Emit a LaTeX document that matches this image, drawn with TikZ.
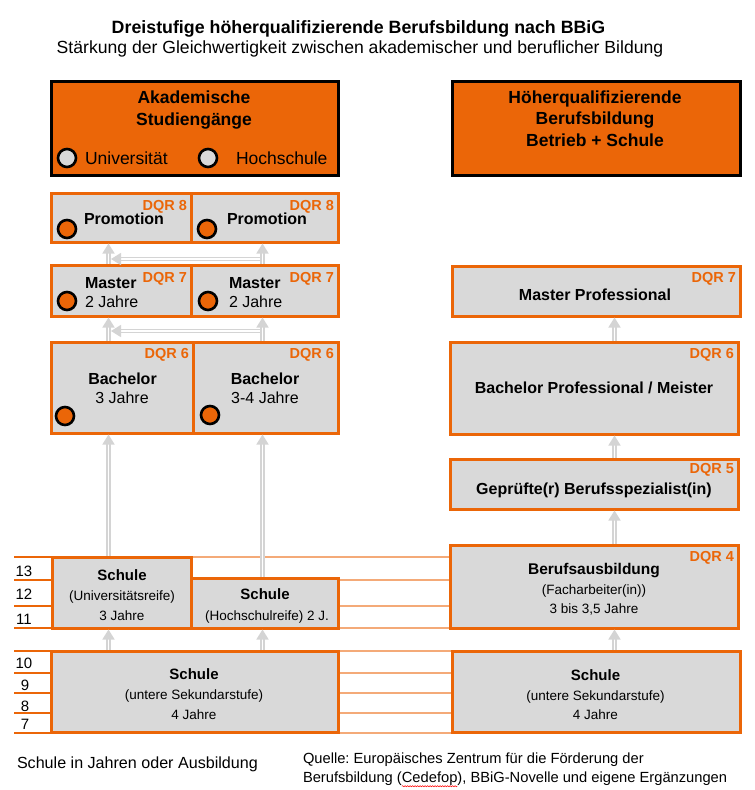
\documentclass[tikz,border=0pt]{standalone}
\usepackage{fontspec}
\setmainfont{Liberation Sans}
\frenchspacing
\usetikzlibrary{arrows.meta,decorations.pathmorphing}
\definecolor{org}{HTML}{EB6608}
\definecolor{lorg}{HTML}{F4AA78}
\definecolor{boxgray}{HTML}{D9D9D9}
\definecolor{agray}{HTML}{D4D4D4}
\tikzset{
  fs/.style={font=\fontsize{#1}{#1}\selectfont},
  fsb/.style={font=\fontsize{#1}{#1}\selectfont\bfseries},
  txt/.style={inner sep=0pt, outer sep=0pt, anchor=mid, yshift=-3.5pt},
  hbox/.style={draw=black, line width=3pt, fill=org, inner sep=0pt},
  gbox/.style={draw=org, line width=3pt, fill=boxgray, inner sep=0pt},
  dqr/.style={txt, anchor=mid east, fsb=14.5, text=org},
  ocirc/.style={circle, draw=black, line width=2.6pt, fill=org, minimum size=18pt, inner sep=0pt},
  gcirc/.style={circle, draw=black, line width=2.6pt, fill=boxgray, minimum size=18pt, inner sep=0pt},
  yl/.style={draw=lorg, line width=1.2pt},
  yld/.style={draw=org, line width=1.2pt},
  arr/.style={draw=none,
    postaction={draw=agray, line width=4.6pt, shorten >=9pt},
    postaction={draw=white, line width=1.6pt, -{Triangle[width=12pt,length=10pt,color=agray]}}}
}
\begin{document}
\begin{tikzpicture}[x=1pt,y=-1pt]
\useasboundingbox[fill=white] (0,0) rectangle (755,790);

% title
\node[txt, fsb=17.8] (title) at (358.5,27) {Dreistufige höherqualifizierende Berufsbildung nach BBiG};
\node[txt, fs=17.6] (subtitle) at (360,47) {Stärkung der Gleichwertigkeit zwischen akademischer und beruflicher Bildung};

% year lines
\foreach \yy [count=\i] in {557,580,606,628,651,673,693,713,733}{
  \draw[yl] (14,\yy) -- (452,\yy);
  \draw[yld] (14,\yy) -- (52,\yy);
}
\node[txt, fs=15] (y13) at (24,570) {13};
\node[txt, fs=15] (y12) at (24,593) {12};
\node[txt, fs=15] (y11) at (24,618) {11};
\node[txt, fs=15] (y10) at (24,662) {10};
\node[txt, fs=15] (y9) at (25,684) {9};
\node[txt, fs=15] (y8) at (25,705) {8};
\node[txt, fs=15] (y7) at (25,723) {7};

% header boxes
\node[hbox, minimum width=287pt, minimum height=94pt] (akad) at (194.5,128) {};
\node[txt, fsb=17.5] (akad1) at (194,97) {Akademische};
\node[txt, fsb=17.5] (akad2) at (194,119) {Studiengänge};
\node[gcirc] (cu) at (67,158) {};
\node[gcirc] (ch) at (208,158) {};
\node[txt, anchor=mid west, fs=17.5] (tu) at (85,158) {Universität};
\node[txt, anchor=mid west, fs=17.5] (th) at (236,158) {Hochschule};

\node[hbox, minimum width=288pt, minimum height=94pt] (hq) at (596,128) {};
\node[txt, fsb=17.5] (hq1) at (595,97) {Höherqualifizierende};
\node[txt, fsb=17.5] (hq2) at (595,118) {Berufsbildung};
\node[txt, fsb=17.5] (hq3) at (595,140) {Betrieb + Schule};

% academic boxes
\node[gbox, minimum width=140pt, minimum height=49pt] (promL) at (121,217.5) {};
\node[gbox, minimum width=147pt, minimum height=49pt] (promR) at (264.5,217.5) {};
\node[gbox, minimum width=140pt, minimum height=51pt] (masL) at (121,290.5) {};
\node[gbox, minimum width=147pt, minimum height=51pt] (masR) at (264.5,290.5) {};
\node[gbox, minimum width=142pt, minimum height=91pt] (bachL) at (122,387.5) {};
\node[gbox, minimum width=145pt, minimum height=91pt] (bachR) at (265.5,387.5) {};

\node[dqr] (dp1) at (187,204) {DQR 8};
\node[dqr] (dp2) at (334,204) {DQR 8};
\node[dqr] (dm1) at (187,276) {DQR 7};
\node[dqr] (dm2) at (334,276) {DQR 7};
\node[dqr] (db1) at (189,352) {DQR 6};
\node[dqr] (db2) at (334,352) {DQR 6};

\node[txt, fsb=16] (tp1) at (124,218) {Promotion};
\node[txt, fsb=16] (tp2) at (267,218) {Promotion};
\node[txt, anchor=mid west, fsb=16] (tm1) at (85,282) {Master};
\node[txt, anchor=mid west, fs=16] (tm1b) at (85,301) {2 Jahre};
\node[txt, anchor=mid west, fsb=16] (tm2) at (229,282) {Master};
\node[txt, anchor=mid west, fs=16] (tm2b) at (229,301) {2 Jahre};
\node[txt, fsb=16] (tb1) at (122.5,378) {Bachelor};
\node[txt, fs=16] (tb1b) at (122,397) {3 Jahre};
\node[txt, fsb=16] (tb2) at (265,378) {Bachelor};
\node[txt, fs=16] (tb2b) at (265,397) {3-4 Jahre};

\node[ocirc] (op1) at (67,229) {};
\node[ocirc] (op2) at (207,229) {};
\node[ocirc] (om1) at (67,301) {};
\node[ocirc] (om2) at (208,301) {};
\node[ocirc] (ob1) at (65,416) {};
\node[ocirc] (ob2) at (210,415) {};

% schools left
\node[gbox, minimum width=139pt, minimum height=71pt] (schU) at (121.5,592.5) {};
\node[gbox, minimum width=147pt, minimum height=50pt] (schH) at (264.5,603) {};
\node[gbox, minimum width=287pt, minimum height=81pt] (schL) at (194.5,691.5) {};
\node[txt, fsb=15] (su1) at (122,574) {Schule};
\node[txt, fs=13.5] (su2) at (122,594) {(Universitätsreife)};
\node[txt, fs=13.5] (su3) at (122,614) {3 Jahre};
\node[txt, fsb=15] (sh1) at (265,593) {Schule};
\node[txt, fs=13.5] (sh2) at (267,614) {(Hochschulreife) 2 J.};
\node[txt, fsb=15] (sl1) at (194,673) {Schule};
\node[txt, fs=13.5] (sl2) at (194,693) {(untere Sekundarstufe)};
\node[txt, fs=13.5] (sl3) at (194,713) {4 Jahre};

% right column
\node[gbox, minimum width=288pt, minimum height=50pt] (mp) at (596,291) {};
\node[gbox, minimum width=288pt, minimum height=92pt] (bp) at (594,388) {};
\node[gbox, minimum width=288pt, minimum height=50pt] (gs) at (594,484) {};
\node[gbox, minimum width=288pt, minimum height=83pt] (ba) at (594,586.5) {};
\node[gbox, minimum width=288pt, minimum height=81pt] (schR) at (596,691.5) {};

\node[dqr] (dmp) at (736,276) {DQR 7};
\node[dqr] (dbp) at (734,352) {DQR 6};
\node[dqr] (dgs) at (734,467) {DQR 5};
\node[dqr] (dba) at (734,555) {DQR 4};

\node[txt, fsb=16] (tmp) at (595,294) {Master Professional};
\node[txt, fsb=16] (tbp) at (594,387) {Bachelor Professional / Meister};
\node[txt, fsb=16] (tgs) at (594,488) {Geprüfte(r) Berufsspezialist(in)};
\node[txt, fsb=15.5] (tba1) at (594,568) {Berufsausbildung};
\node[txt, fs=13.5] (tba2) at (594,588) {(Facharbeiter(in))};
\node[txt, fs=13.5] (tba3) at (594,607) {3 bis 3,5 Jahre};
\node[txt, fsb=15] (tsr1) at (595.5,674) {Schule};
\node[txt, fs=13.5] (tsr2) at (595.5,694) {(untere Sekundarstufe)};
\node[txt, fs=13.5] (tsr3) at (595.5,713) {4 Jahre};

% arrows
\coordinate (xa) at (108.5,0);
\coordinate (xb) at (262.5,0);
\coordinate (xc) at (614.5,0);
\coordinate (h1s) at (262.5,259);
\coordinate (h1e) at (111,259);
\coordinate (h2s) at (262.5,331);
\coordinate (h2e) at (111,331);
\draw[arr] (h1s) -- (h1e);
\draw[arr] (h2s) -- (h2e);
\draw[arr] (masL.north -| xa) -- (promL.south -| xa);
\draw[arr] (masR.north -| xb) -- (promR.south -| xb);
\draw[arr] (bachL.north -| xa) -- (masL.south -| xa);
\draw[arr] (bachR.north -| xb) -- (masR.south -| xb);
\draw[arr] (schU.north -| xa) -- (bachL.south -| xa);
\draw[arr] (schH.north -| xb) -- (bachR.south -| xb);
\draw[arr] (schL.north -| xa) -- (schU.south -| xa);
\draw[arr] (schL.north -| xb) -- (schH.south -| xb);
\draw[arr] (bp.north -| xc) -- (mp.south -| xc);
\draw[arr] (gs.north -| xc) -- (bp.south -| xc);
\draw[arr] (ba.north -| xc) -- (gs.south -| xc);
\draw[arr] (schR.north -| xc) -- (ba.south -| xc);

% footer
\node[txt, anchor=mid west, fs=16.1] (leg) at (17,762) {Schule in Jahren oder Ausbildung};
\node[txt, anchor=mid west, fs=14.7] (q1) at (303,757) {Quelle: Europäisches Zentrum für die Förderung der};
\node[txt, anchor=mid west, fs=14.7] (q2a) at (303,776) {Berufsbildung (};
\node[inner sep=0pt, outer sep=0pt, anchor=base west, fs=14.7] (q2b) at (q2a.base east) {Cedefop};
\node[inner sep=0pt, outer sep=0pt, anchor=base west, fs=14.7] (q2c) at (q2b.base east) {), BBiG-Novelle und eigene Ergänzungen};
\draw[red, line width=0.5pt, decorate, decoration={snake, amplitude=0.6pt, segment length=2.5pt}]
  ([yshift=-1pt]q2b.south west) -- ([yshift=-1pt]q2b.south east);
\end{tikzpicture}
\end{document}
